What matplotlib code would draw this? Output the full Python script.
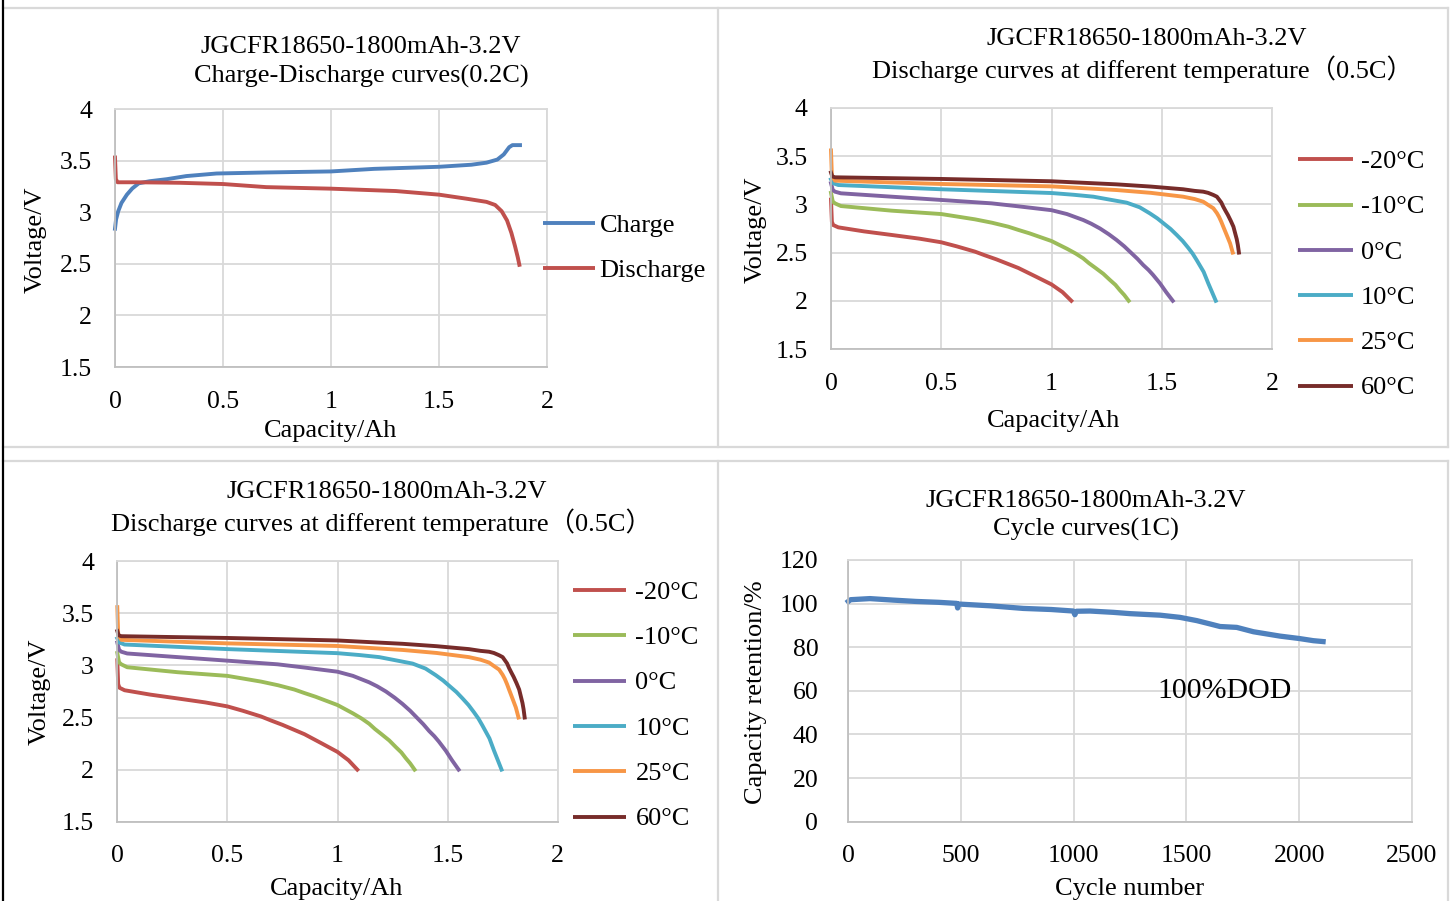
import numpy as np
import matplotlib
matplotlib.use('Agg')
import matplotlib.pyplot as plt
from matplotlib.lines import Line2D

plt.rcParams['font.family'] = ['Liberation Serif', 'Noto Sans CJK SC']

W, H = 1456, 901

# ---- data ----
charge_cap = [0, 0.005, 0.015, 0.03, 0.055, 0.08, 0.11, 0.16, 0.24, 0.33, 0.47, 0.7, 1.0,
              1.2, 1.5, 1.65, 1.72, 1.77, 1.80, 1.825, 1.84, 1.875]
charge_v = [2.84, 2.93, 3.01, 3.09, 3.17, 3.23, 3.28, 3.30, 3.32, 3.35, 3.375, 3.385, 3.395,
            3.42, 3.44, 3.46, 3.48, 3.51, 3.56, 3.63, 3.65, 3.65]
dis_cap = [0, 0.004, 0.012, 0.1, 0.3, 0.5, 0.6, 0.7, 1.0, 1.3, 1.5, 1.63, 1.72, 1.76, 1.79,
           1.815, 1.835, 1.852, 1.865, 1.872]
dis_v = [3.53, 3.32, 3.29, 3.29, 3.285, 3.273, 3.258, 3.243, 3.228, 3.205, 3.17, 3.13, 3.10,
         3.07, 3.01, 2.92, 2.80, 2.67, 2.56, 2.49]

temps = ['-20°C', '-10°C', '0°C', '10°C', '25°C', '60°C']
cap_m20 = [0, 0.004, 0.01, 0.033, 0.15, 0.275, 0.4, 0.5, 0.57, 0.653, 0.7, 0.75, 0.8, 0.85,
           0.89, 0.93, 0.965, 1.0, 1.025, 1.05, 1.07, 1.09]
v_m20 = [3.05, 2.82, 2.786, 2.762, 2.72, 2.683, 2.645, 2.607, 2.565, 2.51, 2.47, 2.43, 2.385,
         2.34, 2.295, 2.25, 2.21, 2.17, 2.13, 2.09, 2.045, 2.0]
cap_m10 = [0, 0.008, 0.018, 0.045, 0.275, 0.5, 0.653, 0.73, 0.804, 0.85, 0.9, 0.95, 1.0, 1.035,
           1.07, 1.11, 1.144, 1.17, 1.2, 1.235, 1.265, 1.29, 1.31, 1.33, 1.35]
v_m10 = [3.12, 3.03, 3.011, 2.983, 2.935, 2.90, 2.845, 2.81, 2.769, 2.735, 2.70, 2.66, 2.62,
         2.58, 2.54, 2.49, 2.44, 2.39, 2.34, 2.28, 2.216, 2.165, 2.11, 2.06, 2.0]
cap_0 = [0, 0.008, 0.018, 0.045, 0.275, 0.5, 0.728, 0.85, 1.0, 1.07, 1.144, 1.18, 1.22, 1.26,
         1.295, 1.33, 1.36, 1.39, 1.416, 1.44, 1.46, 1.492, 1.52, 1.55]
v_0 = [3.22, 3.15, 3.132, 3.115, 3.08, 3.046, 3.011, 2.98, 2.94, 2.90, 2.838, 2.80, 2.75, 2.69,
       2.631, 2.565, 2.50, 2.435, 2.371, 2.32, 2.27, 2.181, 2.09, 2.0]
cap_10 = [0, 0.01, 0.033, 0.5, 1.0, 1.1, 1.19, 1.341, 1.40, 1.446, 1.48, 1.51, 1.54, 1.568,
          1.595, 1.62, 1.64, 1.658, 1.69, 1.711, 1.73, 1.745]
v_10 = [3.26, 3.22, 3.201, 3.157, 3.118, 3.10, 3.08, 3.018, 2.97, 2.907, 2.855, 2.80, 2.745,
        2.683, 2.62, 2.55, 2.49, 2.424, 2.30, 2.181, 2.08, 2.0]
cap_25 = [0, 0.004, 0.018, 0.5, 1.0, 1.295, 1.45, 1.597, 1.65, 1.688, 1.71, 1.734, 1.75, 1.76,
          1.77, 1.779, 1.795, 1.81, 1.822]
v_25 = [3.56, 3.30, 3.246, 3.212, 3.187, 3.149, 3.12, 3.08, 3.055, 3.028, 2.995, 2.96, 2.91,
        2.87, 2.82, 2.769, 2.68, 2.596, 2.5]
cap_60 = [0, 0.006, 0.018, 0.5, 1.0, 1.295, 1.45, 1.597, 1.65, 1.688, 1.71, 1.734, 1.75, 1.76,
          1.77, 1.779, 1.79, 1.80, 1.813, 1.825, 1.833, 1.84, 1.845, 1.85]
v_60 = [3.33, 3.29, 3.281, 3.264, 3.24, 3.208, 3.185, 3.157, 3.14, 3.132, 3.12, 3.098, 3.08,
        3.05, 3.02, 2.976, 2.93, 2.89, 2.83, 2.769, 2.70, 2.64, 2.58, 2.5]

cycles = [0, 10, 96, 200, 300, 400, 481, 485, 490, 629, 776, 900, 998, 1005, 1012, 1072, 1175,
          1250, 1383, 1471, 1546, 1600, 1649, 1723, 1797, 1915, 2000, 2063, 2106]
retention = [101.0, 101.8, 102.3, 101.6, 101.0, 100.6, 100.1, 98.0, 99.8, 99.0, 97.8, 97.3, 96.6,
             94.9, 96.5, 96.6, 96.0, 95.4, 94.7, 93.7, 92.2, 90.8, 89.5, 89.1, 87.1, 85.1, 84.0,
             83.0, 82.6]

v_ticks = [1.5, 2, 2.5, 3, 3.5, 4]
v_ticklabels = ['1.5', '2', '2.5', '3', '3.5', '4']
cap_ticks = [0, 0.5, 1, 1.5, 2]
cap_ticklabels = ['0', '0.5', '1', '1.5', '2']
ret_ticks = [0, 20, 40, 60, 80, 100, 120]
cyc_ticks = [0, 500, 1000, 1500, 2000, 2500]

title1 = 'JGCFR18650-1800mAh-3.2V'

temp_series = [(cap_m20, v_m20), (cap_m10, v_m10), (cap_0, v_0),
               (cap_10, v_10), (cap_25, v_25), (cap_60, v_60)]
temp_colors = ['#C0504D', '#9BBB59', '#8064A2', '#4BACC6', '#F79646', '#772C2A']

FS = 19
TFS = 18.5
LW = 2.8
GRID = '#d9d9d9'

fig = plt.figure(figsize=(W / 100, H / 100), dpi=100)


def box(l, t, r, b):
    return [l / W, (H - b) / H, (r - l) / W, (b - t) / H]


def ftext(x, y, s, **kw):
    kw.setdefault('fontsize', FS)
    fig.text(x / W, 1 - y / H, s, **kw)


def fline(x0, y0, x1, y1, **kw):
    fig.add_artist(Line2D([x0 / W, x1 / W], [1 - y0 / H, 1 - y1 / H], **kw))


def style(ax, xpad, ypad):
    for s in ax.spines.values():
        s.set_color(GRID)
        s.set_linewidth(1.3)
    ax.spines['left'].set_color('#bfbfbf')
    ax.spines['bottom'].set_color('#bfbfbf')
    ax.grid(True, color=GRID, linewidth=1.3)
    ax.set_axisbelow(True)
    ax.tick_params(length=0, labelsize=TFS)
    ax.tick_params(axis='x', pad=xpad)
    ax.tick_params(axis='y', pad=ypad)


def volt_axes(ax):
    ax.set_xlim(0, 2)
    ax.set_ylim(1.5, 4)
    ax.set_xticks(cap_ticks, cap_ticklabels)
    ax.set_yticks(v_ticks, v_ticklabels)


def legend(x0, x1, xt, ys, labels, colors):
    for y, lab, c in zip(ys, labels, colors):
        fline(x0, y, x1, y, color=c, linewidth=LW, solid_capstyle='butt')
        ftext(xt, y + 8.7, lab, va='baseline', ha='left')


# cell borders
for y in (8, 447, 460.5):
    fline(3, y, 1448, y, color=GRID, linewidth=1.6)
for x in (718, 1448):
    fline(x, 8, x, 447, color=GRID, linewidth=1.6)
    fline(x, 460.5, x, 901, color=GRID, linewidth=1.6)
fline(3, 0, 3, 901, color='black', linewidth=1.6)

# ---- panel 1: charge / discharge ----
ax1 = fig.add_axes(box(115, 109, 547, 367))
ax1.plot(charge_cap, charge_v, color='#4F81BD', lw=LW, clip_on=False)
ax1.plot(dis_cap, dis_v, color='#C0504D', lw=LW, clip_on=False)
volt_axes(ax1)
style(ax1, 17.5, 16.5)
ftext(361, 52.7, title1, ha='center', va='baseline')
ftext(361, 83, 'Charge-Discharge curves(0.2C)', ha='center', va='baseline')
ftext(331, 437, 'Capacity/Ah', ha='center', va='baseline')
ftext(36, 240, 'Voltage/V', ha='center', va='center', rotation=90)
legend(542.5, 595, 599.6, [223.3, 268.3], ['Charge', 'Discharge'], ['#4F81BD', '#C0504D'])

# ---- panels 2 and 3: discharge at temperatures ----
panels = [
    dict(box=(831, 108, 1272, 349), t1=(1147, 45), t2=(1142, 78.3), xl=(1054, 427.3),
         yl=(755.5, 230), leg=(1298.3, 1353.2, 1360.5, 159.3)),
    dict(box=(117.3, 561.3, 557.7, 821.7), t1=(386.4, 498.3), t2=(381, 531), xl=(337, 895.4),
         yl=(39.6, 692), leg=(572.6, 626.2, 635.5, 590)),
]
for p in panels:
    ax = fig.add_axes(box(*p['box']))
    for (cx, vy), col in zip(temp_series, temp_colors):
        ax.plot(cx, vy, color=col, lw=LW, clip_on=False)
    volt_axes(ax)
    style(ax, 17, 16.8)
    ftext(*p['t1'], title1, ha='center', va='baseline')
    ftext(*p['t2'], 'Discharge curves at different temperature（0.5C）', ha='center', va='baseline')
    ftext(*p['xl'], 'Capacity/Ah', ha='center', va='baseline')
    ftext(*p['yl'], 'Voltage/V', ha='center', va='center', rotation=90)
    x0, x1, xt, y0 = p['leg']
    legend(x0, x1, xt, [y0 + i * 45.3 for i in range(6)], temps, temp_colors)

# ---- panel 4: cycle life ----
ax4 = fig.add_axes(box(848.3, 560, 1411.9, 821.7))
ax4.plot(cycles, retention, color='#4F81BD', lw=3.8, clip_on=False)
ax4.set_xlim(0, 2500)
ax4.set_ylim(0, 120)
ax4.set_xticks(cyc_ticks, [str(t) for t in cyc_ticks])
ax4.set_yticks(ret_ticks, [str(t) for t in ret_ticks])
style(ax4, 16.5, 21.6)
ax4.text(1667, 56.6, '100%DOD', fontsize=21.5, ha='center', va='baseline')
ftext(1085.6, 506.7, title1, ha='center', va='baseline')
ftext(1086, 536, 'Cycle curves(1C)', ha='center', va='baseline')
ftext(1129.3, 895, 'Cycle number', ha='center', va='baseline')
ftext(755.5, 692.5, 'Capacity retention/%', ha='center', va='center', rotation=90)

fig.savefig('out.png', dpi=100)
